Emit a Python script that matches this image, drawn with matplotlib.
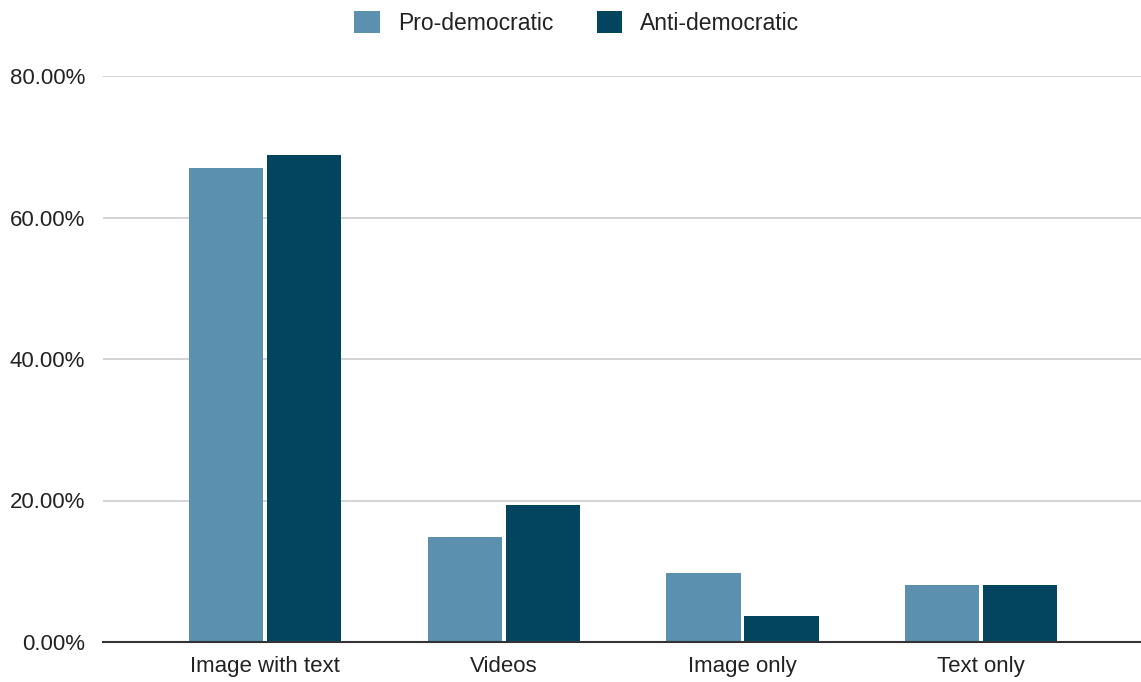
import matplotlib.pyplot as plt
import numpy as np
from matplotlib.ticker import FuncFormatter
from matplotlib.patches import Patch

categories = ['Image with text', 'Videos', 'Image only', 'Text only']
pro_democratic = [67.0, 14.8, 9.7, 8.1]
anti_democratic = [68.8, 19.4, 3.7, 8.1]

pro_color = '#5b91ae'
anti_color = '#03455f'

plt.rcParams['font.family'] = ['Liberation Sans', 'DejaVu Sans']

fig = plt.figure(figsize=(11.41, 6.82), dpi=100)
ax = fig.add_axes([103 / 1141, 1 - 642 / 682, 1 - 103 / 1141, (642 - 76) / 682])

x = np.arange(len(categories))
w = 0.312
off = 0.1634
ax.bar(x - off, pro_democratic, w, color=pro_color, linewidth=0, zorder=3)
ax.bar(x + off, anti_democratic, w, color=anti_color, linewidth=0, zorder=3)

ax.set_xlim(-0.679, 3.67)
ax.set_ylim(0, 80)
ax.set_yticks([0, 20, 40, 60, 80])
ax.yaxis.set_major_formatter(FuncFormatter(lambda v, p: f'{v:.2f}%'))
ax.set_xticks(x)
ax.set_xticklabels(categories)
ax.tick_params(axis='both', length=0, labelsize=16, colors='#222222')
ax.tick_params(axis='y', pad=13)
ax.tick_params(axis='x', pad=10)

ax.grid(axis='y', color='#cccccc', linewidth=1.2, zorder=0)
for s in ['top', 'right', 'left']:
    ax.spines[s].set_visible(False)
ax.spines['bottom'].set_color('#333333')
ax.spines['bottom'].set_linewidth(1.5)
ax.spines['bottom'].set_zorder(4)

handles = [Patch(facecolor=pro_color, label='Pro-democratic'),
           Patch(facecolor=anti_color, label='Anti-democratic')]
fig.legend(handles=handles, loc='center', bbox_to_anchor=(577 / 1141, 1 - 23 / 682),
           ncol=2, frameon=False, fontsize=16.5, handlelength=1.1, handleheight=1.1,
           handletextpad=0.8, columnspacing=1.9, labelcolor='#222222')

fig.savefig('out.png', dpi=100)
